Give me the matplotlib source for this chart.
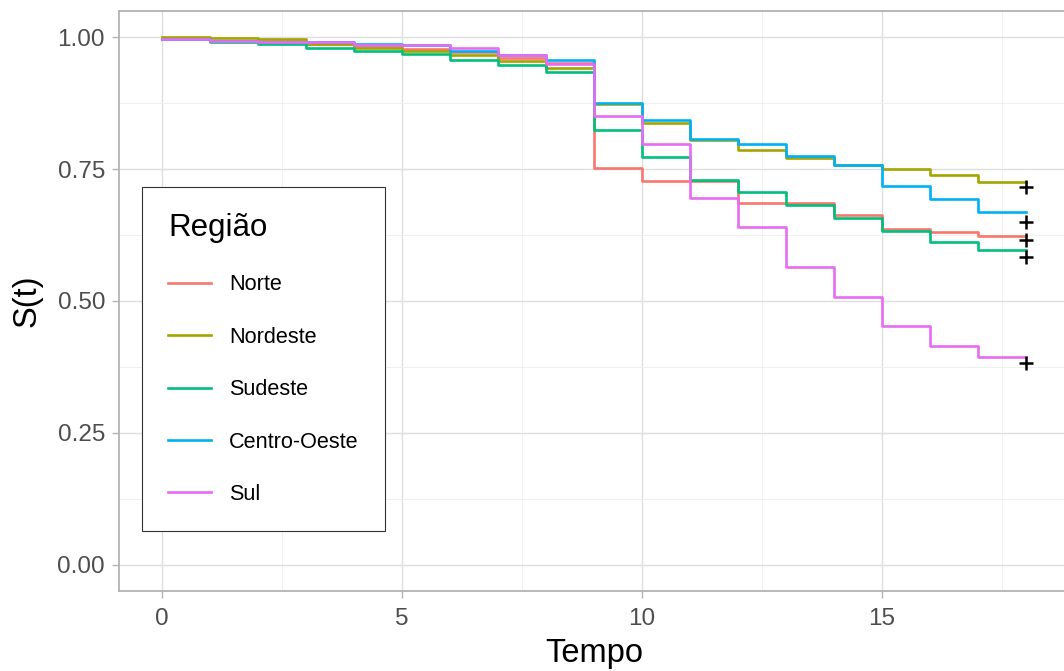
import matplotlib
matplotlib.use("Agg")
import matplotlib.pyplot as plt
from matplotlib.ticker import MultipleLocator, FormatStrFormatter

plt.rcParams['font.family'] = ['Liberation Sans', 'DejaVu Sans']

# step times and survival estimates per interval [t, t+1)
tempo = list(range(0, 19))
regioes = ["Norte", "Nordeste", "Sudeste", "Centro-Oeste", "Sul"]
cores = ["#F8766D", "#A3A500", "#00BF7D", "#00B0F6", "#E76BF3"]

norte = [0.996, 0.994, 0.993, 0.987, 0.983, 0.977, 0.972, 0.960, 0.952,
         0.753, 0.728, 0.728, 0.686, 0.686, 0.663, 0.636, 0.630, 0.624]
nordeste = [1.000, 0.999, 0.996, 0.988, 0.980, 0.975, 0.966, 0.955, 0.941,
            0.874, 0.838, 0.805, 0.787, 0.772, 0.758, 0.750, 0.739, 0.726]
sudeste = [0.997, 0.991, 0.987, 0.980, 0.974, 0.969, 0.958, 0.947, 0.934,
           0.825, 0.773, 0.729, 0.707, 0.682, 0.658, 0.633, 0.612, 0.597]
centro_oeste = [0.997, 0.994, 0.992, 0.991, 0.988, 0.985, 0.974, 0.966, 0.958,
                0.876, 0.844, 0.807, 0.797, 0.775, 0.758, 0.718, 0.693, 0.668]
sul = [0.996, 0.994, 0.992, 0.991, 0.986, 0.985, 0.980, 0.966, 0.949,
       0.851, 0.797, 0.696, 0.641, 0.565, 0.508, 0.453, 0.415, 0.394]

# censoring marks at the end of follow-up
censura_t = 18
censura_s = [0.616, 0.717, 0.584, 0.649, 0.382]

series = [norte, nordeste, sudeste, centro_oeste, sul]

fig = plt.figure(figsize=(10.64, 6.71), dpi=100)
ax = fig.add_axes([119 / 1064, 80 / 671, 950 / 1064, 580 / 671])

for nome, cor, s in zip(regioes, cores, series):
    ax.step(tempo, s + [s[-1]], where="post", color=cor, lw=1.9, label=nome)

for s_c in censura_s:
    ax.plot(censura_t, s_c, marker="+", color="black", ms=10, mew=1.8, ls="none")

ax.set_xlim(-0.9, 18.9)
ax.set_ylim(-0.05, 1.05)
ax.xaxis.set_major_locator(MultipleLocator(5))
ax.xaxis.set_minor_locator(MultipleLocator(2.5))
ax.yaxis.set_major_locator(MultipleLocator(0.25))
ax.yaxis.set_minor_locator(MultipleLocator(0.125))
ax.yaxis.set_major_formatter(FormatStrFormatter("%.2f"))

ax.grid(which="major", color="#DEDEDE", lw=1.0)
ax.grid(which="minor", color="#EEEEEE", lw=0.6)
ax.set_axisbelow(True)
for sp in ax.spines.values():
    sp.set_color("#B3B3B3")
    sp.set_linewidth(1.3)

ax.tick_params(which="major", length=5, width=1.0, color="#B3B3B3",
               labelsize=17.5, labelcolor="#4D4D4D", pad=5)
ax.tick_params(axis="x", pad=7)
ax.tick_params(which="minor", length=0)

ax.set_xlabel("Tempo", fontsize=23.5, labelpad=6)
ax.set_ylabel("S(t)", fontsize=23.5, labelpad=11)

leg = ax.legend(title="Região", loc="lower left", bbox_to_anchor=(0.0247, 0.1034),
                borderaxespad=0, fontsize=15.6, title_fontsize=22.5, frameon=True,
                fancybox=False, handlelength=1.95, handletextpad=0.85,
                labelspacing=1.45, borderpad=1.2, alignment="left")
leg.get_frame().set_edgecolor("#333333")
leg.get_frame().set_linewidth(0.8)
leg.get_frame().set_alpha(1)

fig.savefig("out.png", dpi=100)
